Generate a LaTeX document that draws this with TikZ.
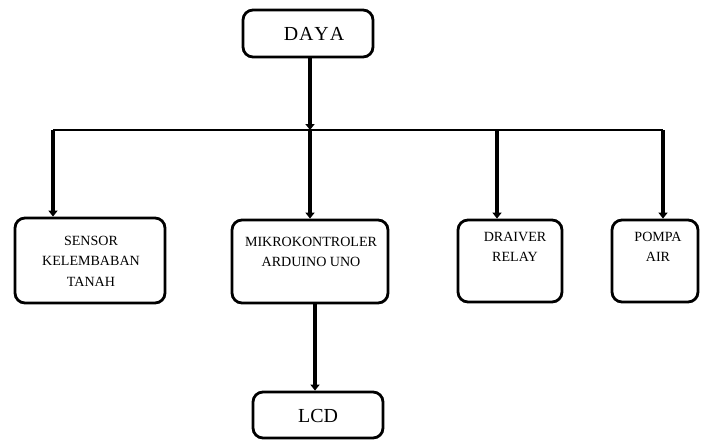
\documentclass[tikz,border=0pt]{standalone}
\usepackage{fontspec}
\setmainfont{Liberation Serif}
\usetikzlibrary{arrows.meta}
\tikzset{
	blok/.style={draw, line width=2.4pt, rounded corners=0.3cm, inner sep=0pt},
	teks/.style={align=center, font=\fontsize{12}{17.5}\selectfont, inner sep=0pt},
	teksbesar/.style={font=\fontsize{17}{20}\selectfont, inner sep=0pt},
	panah/.style={line width=3.6pt, -{Triangle[length=5pt,width=7.5pt]}},
	jalur/.style={line width=1pt}
}

\begin{document}
\begin{tikzpicture}[x=0.03cm, y=-0.03cm]
				%%%%% START %%%%%
				\useasboundingbox (0, 0) rectangle (711, 442);
				
				% kotak
				\node[blok, minimum width=3.9cm, minimum height=1.41cm] (daya) at (308, 33.5) {};
				\node[blok, minimum width=4.5cm, minimum height=2.55cm] (sensor) at (90, 260.5) {};
				\node[blok, minimum width=4.68cm, minimum height=2.49cm] (mikro) at (310, 261.5) {};
				\node[blok, minimum width=3.12cm, minimum height=2.46cm] (relay) at (510, 261) {};
				\node[blok, minimum width=2.58cm, minimum height=2.46cm] (pompa) at (655, 261) {};
				\node[blok, minimum width=3.9cm, minimum height=1.38cm] (lcd) at (318, 415) {};
				
				% tulisan
				\node[teksbesar] (dayat) at (314, 34) {D\kern0.8pt A\kern0.8pt Y\kern0.8pt A};
				\node[teks] (sensort) at (91, 261) {SENSOR\\KELEMBABAN\\TANAH};
				\node[teks] (mikrot) at (311, 252) {MIKROKONTROLER\\ARDUINO UNO};
				\node[teks] (relayt) at (515, 247) {DRAIVER\\RELAY};
				\node[teks] (pompat) at (658, 247) {POMPA\\AIR};
				\node[teksbesar] (lcdt) at (318, 416) {LCD};
				
				% jalur daya
				\coordinate (bus0) at (310, 130);
				\coordinate (bus1) at (53, 130);
				\coordinate (bus2) at (310, 130);
				\coordinate (bus3) at (497, 130);
				\coordinate (bus4) at (663, 130);
				\coordinate (lcdin) at (315, 303);
				
				\draw[panah] (daya.south -| bus0) -- (bus0);
				\draw[jalur] (bus1) -- (bus4);
				\draw[panah] (bus1) -- (bus1 |- sensor.north);
				\draw[panah] (bus2) -- (bus2 |- mikro.north);
				\draw[panah] (bus3) -- (bus3 |- relay.north);
				\draw[panah] (bus4) -- (bus4 |- pompa.north);
				\draw[panah] (lcdin |- mikro.south) -- (lcdin |- lcd.north);
				%%%%% END %%%%%
\end{tikzpicture}
\end{document}
